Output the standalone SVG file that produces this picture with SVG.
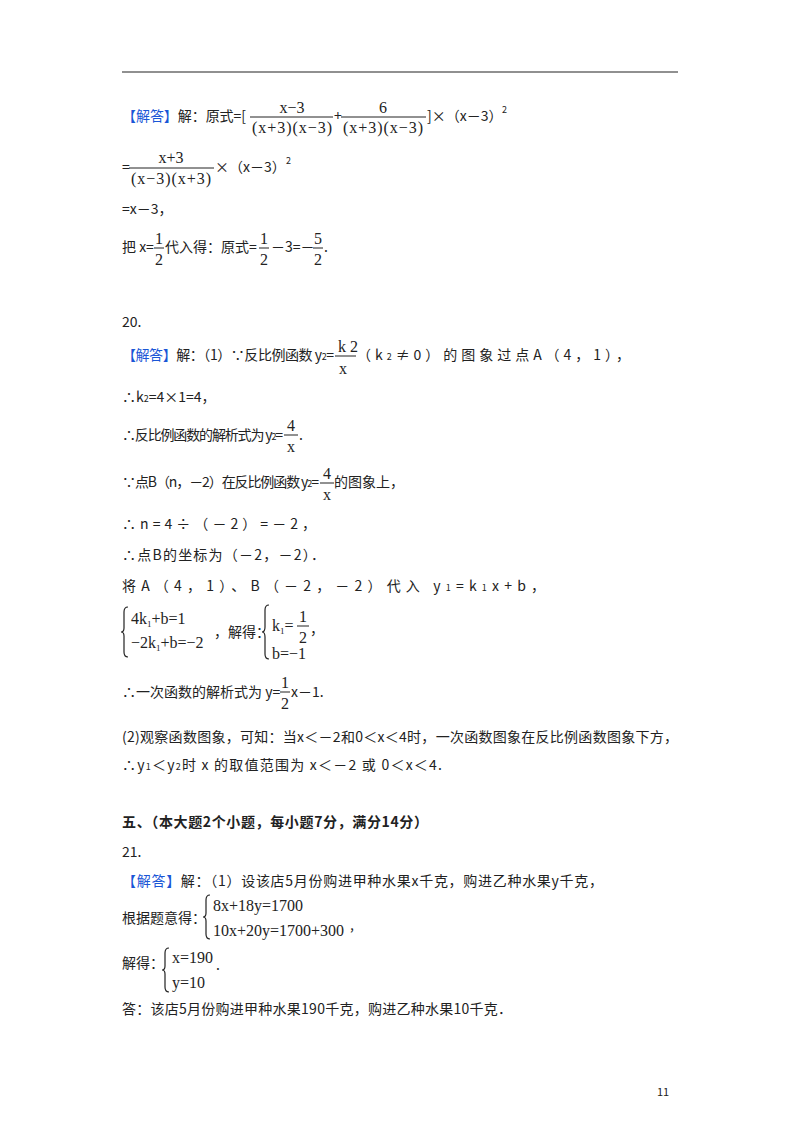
<svg xmlns="http://www.w3.org/2000/svg" width="800" height="1132" viewBox="0 0 800 1132">
<style>
text{font-family:"Noto Sans CJK SC","Liberation Serif",serif;font-size:14px;fill:#222}
.m{font-family:"Liberation Serif","Noto Sans CJK SC",serif;font-size:16px}
.s{font-size:9px}
.b{fill:#1a56d6}
.h{font-weight:bold}
.bar{stroke:#222;stroke-width:1}
.br{fill:none;stroke:#222;stroke-width:1.2}
</style>
<rect width="800" height="1132" fill="#fff"/>
<line x1="122" y1="72" x2="678" y2="72" stroke="#222" stroke-width="1.2"/>
<g id="p19">
<text x="122" y="121" textLength="124"><tspan class="b">【解答】</tspan>解：原式=[</text>
<text class="m" x="292" y="113" text-anchor="middle">x−3</text>
<line class="bar" x1="250" y1="117" x2="333" y2="117"/>
<text class="m" x="292" y="133" text-anchor="middle" textLength="80">(x+3)(x−3)</text>
<text x="334" y="121">+</text>
<text class="m" x="383" y="113" text-anchor="middle">6</text>
<line class="bar" x1="341" y1="117" x2="426" y2="117"/>
<text class="m" x="383" y="133" text-anchor="middle" textLength="80">(x+3)(x−3)</text>
<text x="427" y="121">]×（x－3）</text>
<text class="s" x="502" y="113">2</text>
<text x="122" y="172">=</text>
<text class="m" x="171" y="163" text-anchor="middle">x+3</text>
<line class="bar" x1="129" y1="168" x2="214" y2="168"/>
<text class="m" x="171" y="184" text-anchor="middle" textLength="80">(x−3)(x+3)</text>
<text x="215" y="172">×（x－3）</text>
<text class="s" x="286" y="164">2</text>
<text x="122" y="214">=x－3，</text>
<text x="122" y="252">把 x=</text>
<text class="m" x="159" y="244" text-anchor="middle">1</text>
<line class="bar" x1="154" y1="248" x2="164" y2="248"/>
<text class="m" x="159" y="265" text-anchor="middle">2</text>
<text x="165" y="252">代入得：原式=</text>
<text class="m" x="264" y="244" text-anchor="middle">1</text>
<line class="bar" x1="259" y1="248" x2="269" y2="248"/>
<text class="m" x="264" y="265" text-anchor="middle">2</text>
<text x="271" y="252">－3=－</text>
<text class="m" x="318" y="244" text-anchor="middle">5</text>
<line class="bar" x1="313" y1="248" x2="323" y2="248"/>
<text class="m" x="318" y="265" text-anchor="middle">2</text>
<text x="324" y="252">.</text>
</g>
<g id="p20">
<text x="122" y="327">20.</text>
<text x="122" y="360" textLength="212"><tspan class="b">【解答】</tspan>解：（1）∵反比例函数 y<tspan class="s">2</tspan>=</text>
<text class="m" x="348" y="352" text-anchor="middle">k 2</text>
<line class="bar" x1="335" y1="356" x2="356" y2="356"/>
<text class="m" x="343" y="374" text-anchor="middle">x</text>
<text x="357" y="360" textLength="273">（k<tspan class="s">2</tspan>≠0）的图象过点A（4，1），</text>
<text x="122" y="402">∴k<tspan class="s">2</tspan>=4×1=4，</text>
<text x="122" y="440" textLength="161">∴反比例函数的解析式为 y<tspan class="s">2</tspan>=</text>
<text class="m" x="291" y="431" text-anchor="middle">4</text>
<line class="bar" x1="284" y1="435" x2="298" y2="435"/>
<text class="m" x="291" y="452" text-anchor="middle">x</text>
<text x="299" y="440">.</text>
<text x="122" y="487" textLength="197">∵点B（n，－2）在反比例函数 y<tspan class="s">2</tspan>=</text>
<text class="m" x="327" y="479" text-anchor="middle">4</text>
<line class="bar" x1="320" y1="483" x2="334" y2="483"/>
<text class="m" x="327" y="500" text-anchor="middle">x</text>
<text x="334" y="487">的图象上，</text>
<text x="122" y="529" textLength="194">∴n=4÷（－2）=－2，</text>
<text x="122" y="560" textLength="203">∴点B的坐标为（－2，－2）．</text>
<text x="122" y="591" textLength="423">将A（4，1）、B（－2，－2）代入 y<tspan class="s">1</tspan>=k<tspan class="s">1</tspan>x+b，</text>
<path class="br" d="M128,607 q-4,0 -4,5 v16 q0,4 -3,4 q3,0 3,4 v16 q0,5 4,5"/>
<text class="m" x="131" y="624">4k<tspan class="s" dy="3">1</tspan><tspan dy="-3">+b=1</tspan></text>
<text class="m" x="131" y="648">−2k<tspan class="s" dy="3">1</tspan><tspan dy="-3">+b=−2</tspan></text>
<text x="214" y="637">，解得：</text>
<path class="br" d="M269,605 q-4,0 -4,5 v17 q0,5 -3,5 q3,0 3,5 v17 q0,5 4,5"/>
<text class="m" x="272" y="631">k<tspan class="s" dy="3">1</tspan><tspan dy="-3">=</tspan></text>
<text class="m" x="303" y="622" text-anchor="middle">1</text>
<line class="bar" x1="297" y1="626" x2="309" y2="626"/>
<text class="m" x="303" y="643" text-anchor="middle">2</text>
<text x="310" y="634">，</text>
<text class="m" x="272" y="659">b=−1</text>
<text x="122" y="697">∴一次函数的解析式为 y=</text>
<text class="m" x="285" y="688" text-anchor="middle">1</text>
<line class="bar" x1="280" y1="692" x2="290" y2="692"/>
<text class="m" x="285" y="709" text-anchor="middle">2</text>
<text x="291" y="697">x－1.</text>
<text x="122" y="742" textLength="556">(2)观察函数图象，可知：当x＜－2和0＜x＜4时，一次函数图象在反比例函数图象下方，</text>
<text x="122" y="770" textLength="320">∴y<tspan class="s">1</tspan>＜y<tspan class="s">2</tspan>时 x 的取值范围为 x＜－2 或 0＜x＜4.</text>
</g>
<g id="p21">
<text class="h" x="122" y="827" textLength="306">五、（本大题2个小题，每小题7分，满分14分）</text>
<text x="122" y="857">21.</text>
<text x="122" y="886" textLength="481"><tspan class="b">【解答】</tspan>解：（1）设该店5月份购进甲种水果x千克，购进乙种水果y千克，</text>
<text x="122" y="923">根据题意得：</text>
<path class="br" d="M210,895 q-4,0 -4,5 v13 q0,4 -3,4 q3,0 3,4 v13 q0,5 4,5"/>
<text class="m" x="213" y="911">8x+18y=1700</text>
<text class="m" x="213" y="936">10x+20y=1700+300</text>
<text x="350" y="930">,</text>
<text x="122" y="968">解得：</text>
<path class="br" d="M169,948 q-4,0 -4,5 v13 q0,4 -3,4 q3,0 3,4 v13 q0,5 4,5"/>
<text class="m" x="172" y="963">x=190</text>
<text class="m" x="172" y="988">y=10</text>
<text x="216" y="970">.</text>
<text x="122" y="1014" textLength="390">答：该店5月份购进甲种水果190千克，购进乙种水果10千克．</text>
</g>
<text x="657" y="1096" style="font-size:11px">11</text>
</svg>
